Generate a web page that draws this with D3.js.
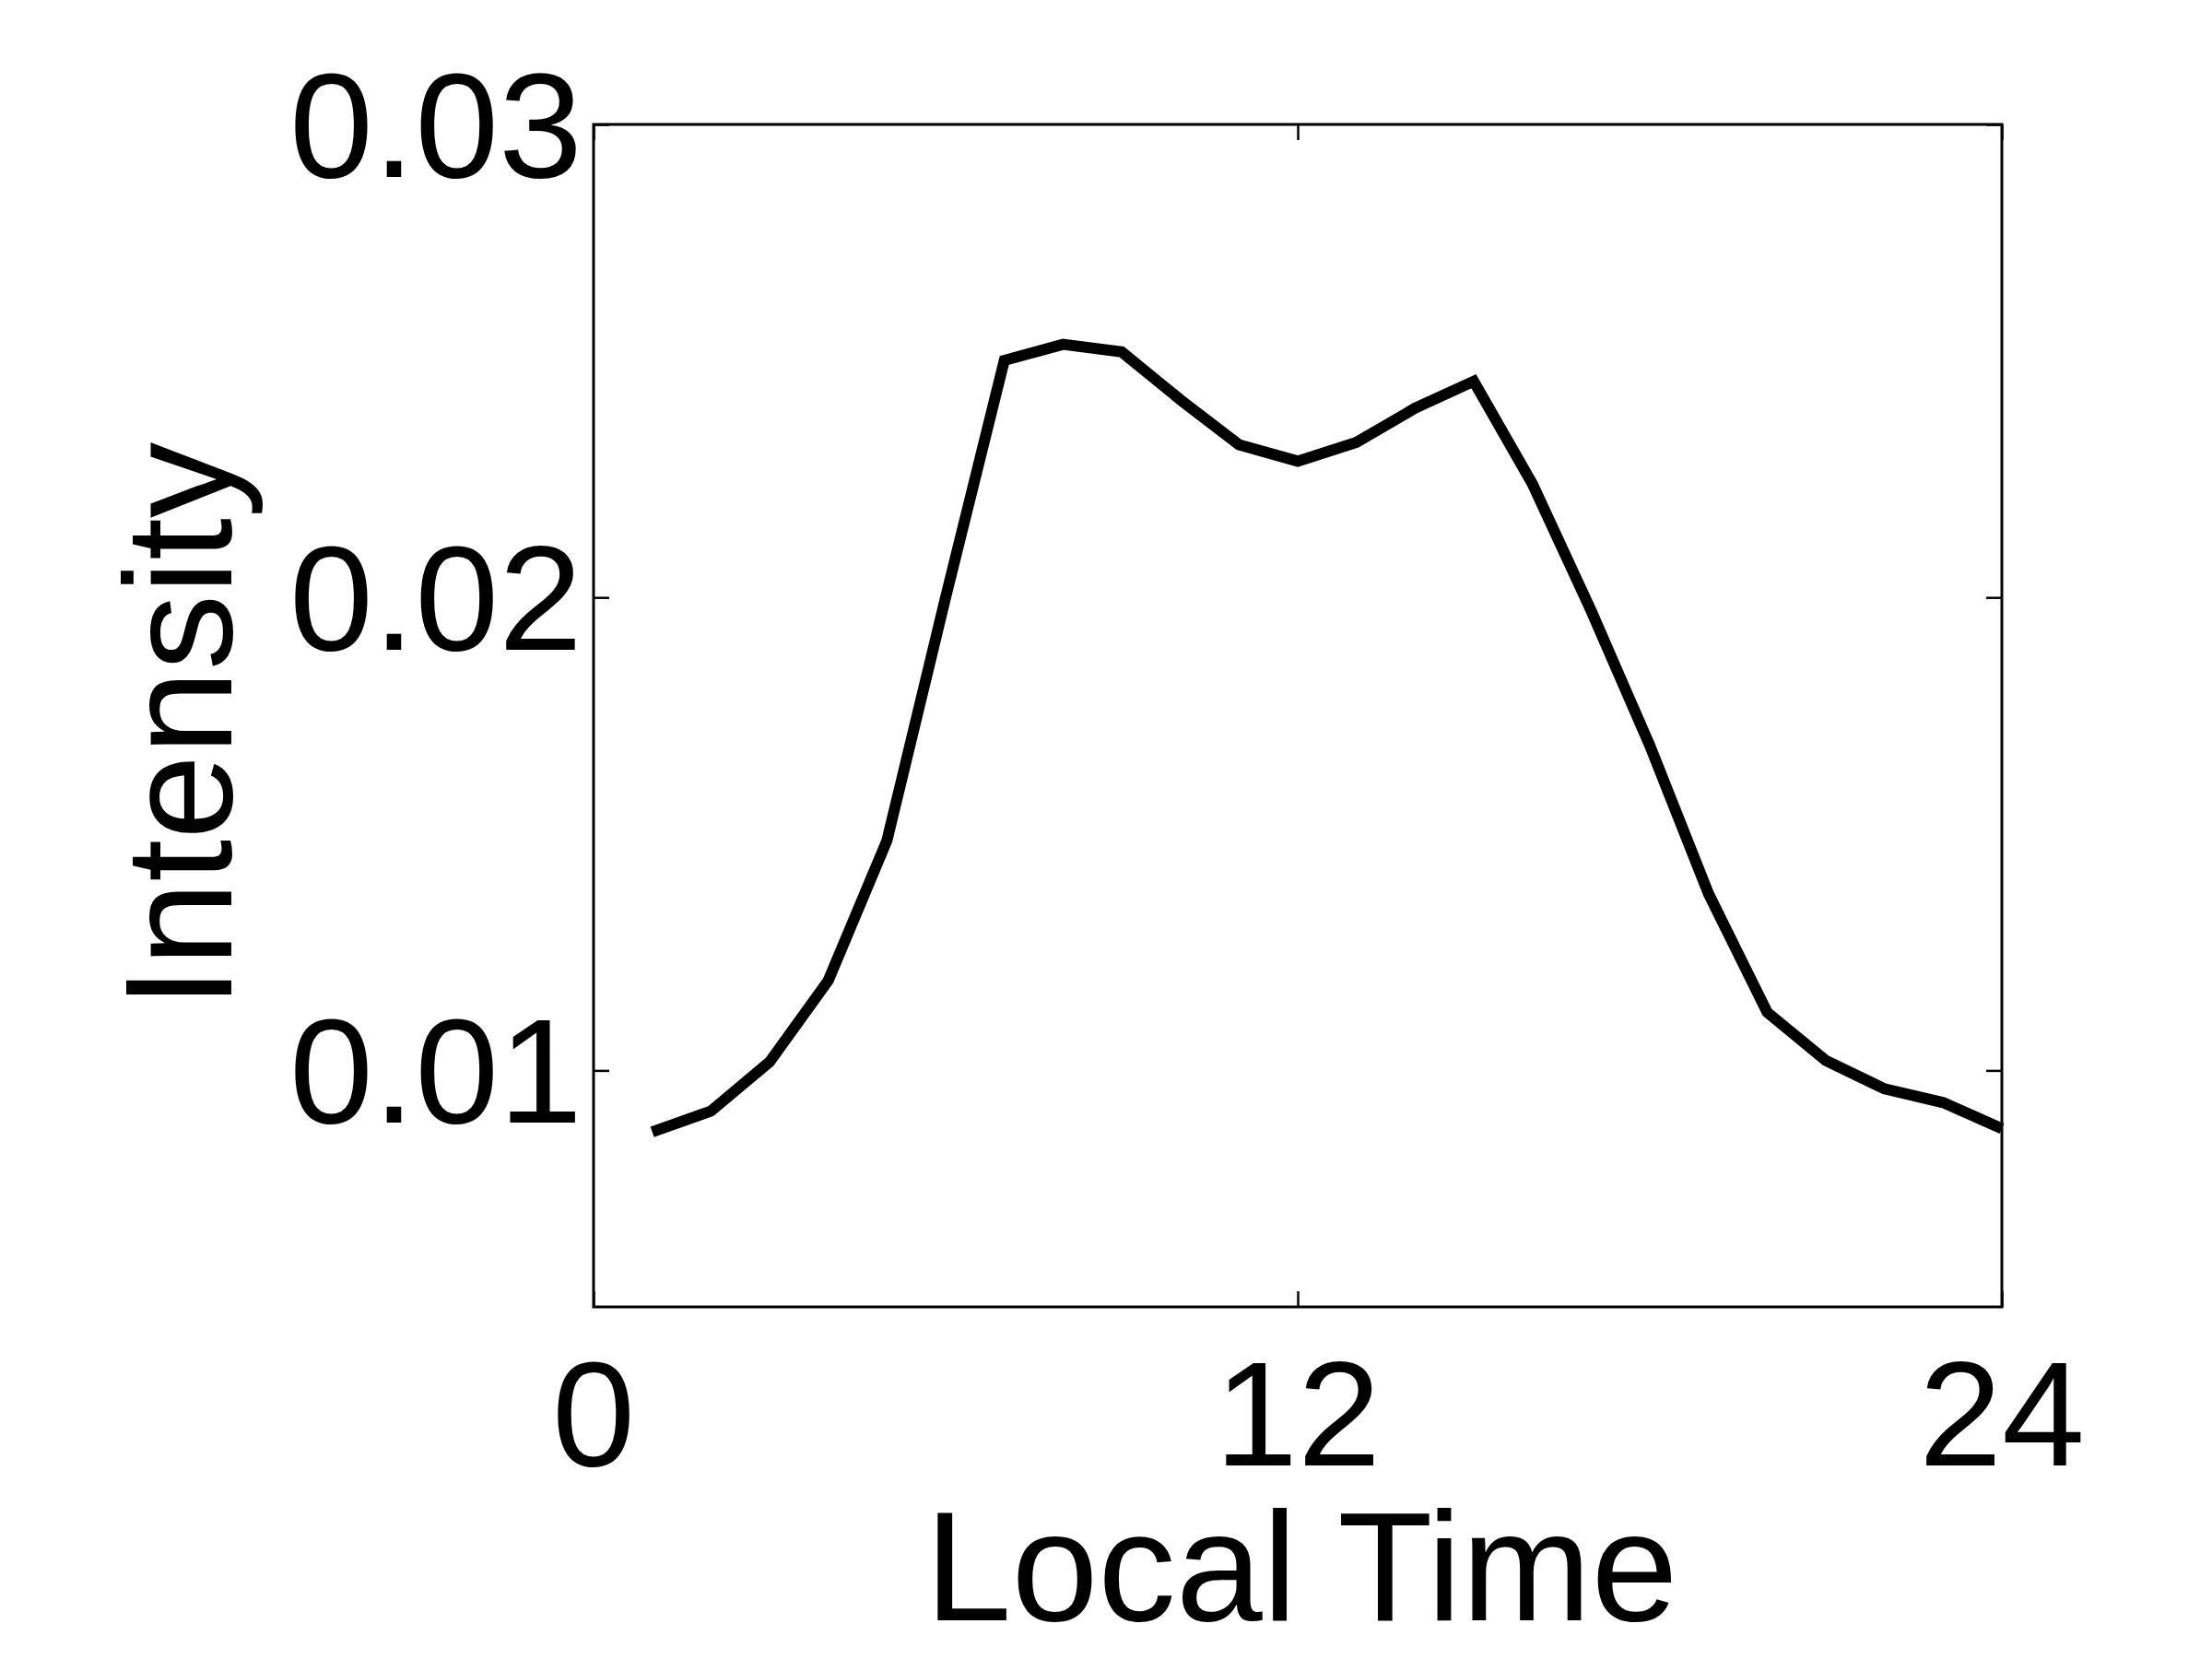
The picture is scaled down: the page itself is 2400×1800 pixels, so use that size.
<!DOCTYPE html>
<html>
<head>
<meta charset="utf-8">
<script src="https://cdn.jsdelivr.net/npm/d3@7"></script>
<style>
html,body{margin:0;padding:0;background:#fff;}
svg{display:block;}
text{font-family:"Liberation Sans",Arial,Helvetica,sans-serif;fill:#000;}
</style>
</head>
<body>
<svg id="chart" width="2400" height="1800"></svg>
<script>
const hours = [1,2,3,4,5,6,7,8,9,10,11,12,13,14,15,16,17,18,19,20,21,22,23,24];
const intensity = [0.0087,0.00914,0.01018,0.0119,0.01486,0.0200,0.02501,0.02535,0.02519,0.02418,0.02323,0.02288,0.02328,0.0240,0.02457,0.0224,0.01972,0.01687,0.01374,0.01123,0.01021,0.00961,0.00932,0.00877];
const xTicks = [0,12,24];
const yTicks = [0.01,0.02,0.03];
const xLabel = "Local Time";
const yLabel = "Intensity";

const svg = d3.select("#chart");
svg.append("rect").attr("width",2400).attr("height",1800).attr("fill","#fff");
const L=644,R=2172,T=135,B=1418;
const x = d3.scaleLinear().domain([0,24]).range([L,R]);
const y = d3.scaleLinear().domain([0.005,0.03]).range([B,T]);
const fs = 162, tickLen = 17;

// line
const line = d3.line().x((d,i)=>x(hours[i])).y(d=>y(d));
svg.append("path").datum(intensity).attr("d",line)
  .attr("fill","none").attr("stroke","#000").attr("stroke-width",12)
  .attr("stroke-linejoin","miter").attr("stroke-linecap","butt");

// axes (inward ticks)
const axB = d3.axisBottom(x).tickValues(xTicks).tickSize(-tickLen).tickFormat("");
const axT = d3.axisTop(x).tickValues(xTicks).tickSize(-tickLen).tickFormat("");
const axL = d3.axisLeft(y).tickValues(yTicks).tickSize(-tickLen).tickFormat("");
const axR = d3.axisRight(y).tickValues(yTicks).tickSize(-tickLen).tickFormat("");
[[axB,`translate(0,${B})`],[axT,`translate(0,${T})`],[axL,`translate(${L},0)`],[axR,`translate(${R},0)`]].forEach(([a,t])=>{
  const g = svg.append("g").attr("transform",t).call(a);
  g.select(".domain").remove();
  g.selectAll(".tick line").attr("stroke","#000").attr("stroke-width",2.5);
});
svg.append("rect").attr("x",L).attr("y",T).attr("width",R-L).attr("height",B-T)
  .attr("fill","none").attr("stroke","#000").attr("stroke-width",3);

// tick labels
svg.append("g").selectAll("text").data(xTicks).join("text")
  .attr("x",d=>x(d)).attr("y",1590).attr("text-anchor","middle")
  .attr("font-size",fs).text(d=>d);
svg.append("g").selectAll("text").data(yTicks).join("text")
  .attr("x",632).attr("y",d=>y(d)+57).attr("text-anchor","end")
  .attr("font-size",fs).attr("textLength",318).attr("lengthAdjust","spacingAndGlyphs")
  .text(d=>d.toFixed(2));

// axis labels
svg.append("text").attr("x",(L+R)/2+4).attr("y",1758).attr("text-anchor","middle")
  .attr("font-size",169).text(xLabel);
svg.append("text").attr("transform",`translate(251,787) rotate(-90)`)
  .attr("text-anchor","middle").attr("font-size",165).text(yLabel);
</script>
</body>
</html>
